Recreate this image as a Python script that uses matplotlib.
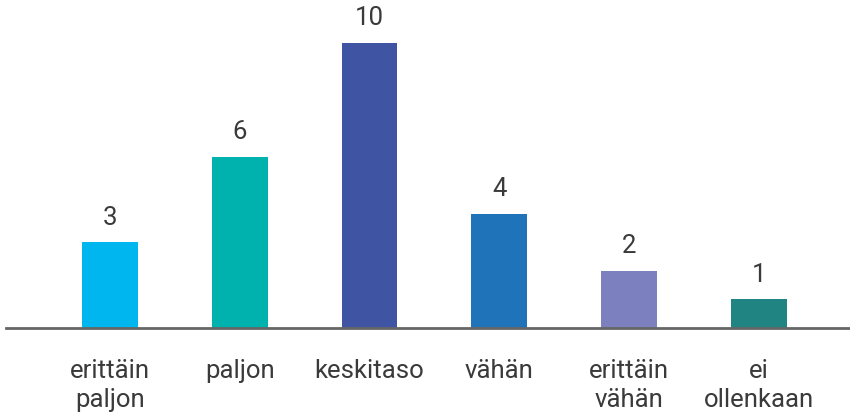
import matplotlib
matplotlib.use("Agg")
import matplotlib.pyplot as plt

categories = ["erittäin\npaljon", "paljon", "keskitaso", "vähän", "erittäin\nvähän", "ei\nollenkaan"]
values = [3, 6, 10, 4, 2, 1]
colors = ["#00b6ef", "#00b2ae", "#3f55a4", "#1e73b9", "#7c80bf", "#1f8482"]

plt.rcParams['font.family'] = ['Roboto', 'DejaVu Sans']

fig = plt.figure(figsize=(8.5, 4.16), dpi=100)
ax = fig.add_axes([6/850, 88/416, 844/850, 328/416])
x = list(range(len(categories)))
ax.bar(x, values, width=0.43, color=colors)
for xi, v in zip(x, values):
    ax.annotate(str(v), (xi, v), xytext=(0, 9), textcoords="offset points",
                ha="center", va="bottom", fontsize=18.5, color="#3a3a3a")
ax.set_xlim(-0.8, 5.7)
ax.set_ylim(0, 11.5)
ax.set_xticks(x)
ax.set_xticklabels(categories, fontsize=18.5, color="#3a3a3a", linespacing=1.3)
ax.tick_params(axis="x", length=0, pad=22)
ax.set_yticks([])
for s in ["top", "right", "left"]:
    ax.spines[s].set_visible(False)
ax.spines["bottom"].set_color("#666666")
ax.spines["bottom"].set_linewidth(2)
fig.savefig("out.png", dpi=100)
